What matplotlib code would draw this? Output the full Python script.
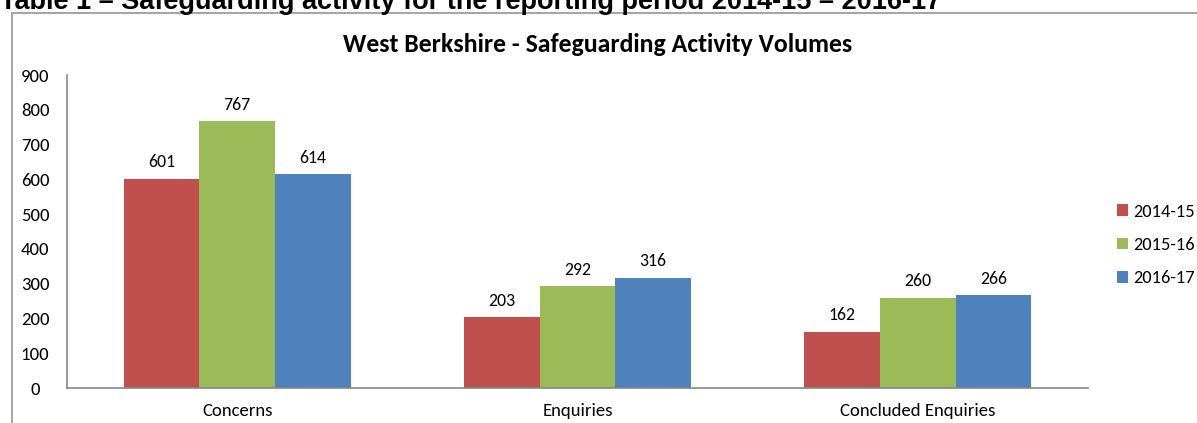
import numpy as np
import matplotlib.pyplot as plt
from matplotlib.patches import Rectangle

# Safeguarding activity volumes per reporting year
categories = ['Concerns', 'Enquiries', 'Concluded Enquiries']
years = ['2014-15', '2015-16', '2016-17']
vals_2014 = [601, 203, 162]
vals_2015 = [767, 292, 260]
vals_2016 = [614, 316, 266]
y_ticks = [0, 100, 200, 300, 400, 500, 600, 700, 800, 900]

colors = ['#C0504D', '#9BBB59', '#4F81BD']
series = [vals_2014, vals_2015, vals_2016]

plt.rcParams['font.family'] = ['Carlito', 'Liberation Sans Narrow', 'Open Sans', 'DejaVu Sans']

fig = plt.figure(figsize=(11.97, 4.23), dpi=100)

# page heading above the chart (partly off the top of the canvas)
fig.text(0.0, 1 - 9 / 423, 'Table 1 \u2013 Safeguarding activity for the reporting period 2014-15 \u2013 2016-17',
         fontsize=19.5, fontweight='bold', family=['Liberation Sans', 'DejaVu Sans'],
         ha='left', va='baseline')

# chart frame
fig.patches.append(Rectangle((12 / 1197, -0.1), 1.2, 1 - 13 / 423 + 0.1,
                             transform=fig.transFigure, fill=False,
                             edgecolor='#A6A6A6', linewidth=1.5))

ax = fig.add_axes([67 / 1197, 1 - 388 / 423, (1088 - 67) / 1197, (388 - 75) / 423])

x = np.arange(len(categories))
width = 2 / 9
for i, (vals, color, label) in enumerate(zip(series, colors, years)):
    pos = x + (i - 1) * width
    ax.bar(pos, vals, width, color=color, label=label)
    for xp, v in zip(pos, vals):
        ax.text(xp, v + 25, f'{v}', ha='center', va='bottom', fontsize=12.8)

ax.set_xlim(-0.5, 2.5)
ax.set_ylim(0, 900)
ax.set_yticks(y_ticks)
ax.set_xticks(x)
ax.set_xticklabels(categories, fontsize=12.8)
ax.tick_params(axis='both', length=0, labelsize=13.5)
ax.tick_params(axis='y', pad=23)
ax.tick_params(axis='x', pad=11)
for lbl in ax.get_yticklabels():
    lbl.set_horizontalalignment('center')

for side in ['top', 'right']:
    ax.spines[side].set_visible(False)
for side in ['left', 'bottom']:
    ax.spines[side].set_color('#868686')
    ax.spines[side].set_linewidth(1.2)

fig.text(598 / 1197, 1 - 45 / 423, 'West Berkshire - Safeguarding Activity Volumes',
         ha='center', va='center', fontsize=18.5, fontweight='bold')

fig.legend(loc='center left', bbox_to_anchor=(1117 / 1197, 1 - 245 / 423),
           frameon=False, fontsize=13.2, handlelength=0.6, handleheight=0.6,
           labelspacing=0.95, handletextpad=0.27, borderpad=0, borderaxespad=0)

fig.savefig('out.png', dpi=100)
